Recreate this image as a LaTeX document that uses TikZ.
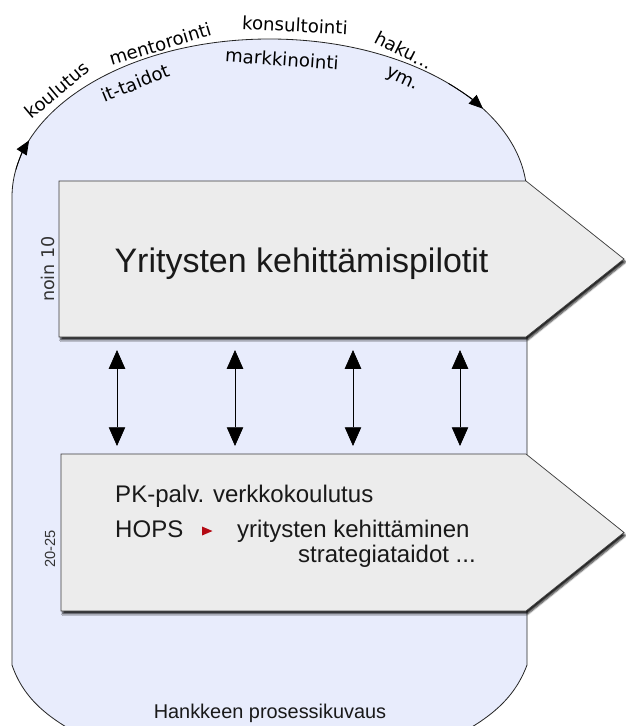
\documentclass[tikz,border=0pt]{standalone}
\usepackage{fontspec}
\setmainfont{Liberation Sans}
\newfontfamily\dejavu{DejaVu Sans}
\usetikzlibrary{arrows.meta,shadows.blur}
\definecolor{bluebg}{RGB}{232,236,252}
\definecolor{boxfill}{RGB}{236,236,236}
\definecolor{boxline}{RGB}{60,60,60}
\definecolor{hopsred}{RGB}{180,10,20}
\tikzset{
  bluearea/.style={fill=bluebg,draw=black!85,line width=0.7pt},
  chevron/.style={fill=boxfill,draw=boxline,line width=0.6pt,
    blur shadow={shadow xshift=1.5pt,shadow yshift=-2.5pt,shadow blur radius=1.5pt,shadow blur steps=6,shadow opacity=85}},
  arclabel/.style={font=\dejavu\fontsize{15.5}{18}\selectfont,inner sep=0pt,anchor=center},
  linkarrow/.style={{Triangle[length=16pt,width=14pt,fill=black]}-{Triangle[length=16pt,width=14pt,fill=black]},line width=0.6pt,draw=black,opacity=1,fill opacity=1,draw opacity=1},
  arctip/.style={-{Triangle[length=12pt,width=10pt]},line width=0.7pt},
  boxtext/.style={inner sep=0pt,text=black!90,font=\fontsize{20.5}{24}\selectfont},
  sidelabel/.style={rotate=90,inner sep=0pt,anchor=base,text=black!80}
}
\begin{document}
\begin{tikzpicture}[x=0.03cm,y=-0.03cm]
\useasboundingbox (0,0) rectangle (626,726);
\clip (0,0) rectangle (626,726);
% process area
\path[bluearea] (12,197) arc[start angle=180,end angle=360,x radius=257.5,y radius=158]
  -- (527,665) .. controls (514,700) and (488,720) .. (448,740)
  -- (90,740) .. controls (50,720) and (24,700) .. (12,665) -- cycle;
% arrow tips on the cycle
\draw[arctip] (15.9,169.6) arc[start angle=190,end angle=201,x radius=257.5,y radius=158];
\draw[arctip] (448.4,83.4) arc[start angle=314,end angle=326,x radius=257.5,y radius=158];
% chevrons
\begin{scope}
\path[chevron] (59,181) -- (526,181) -- (624,259) -- (526,337) -- (59,337) -- cycle;
\end{scope}
\begin{scope}
\path[chevron] (61,454) -- (526,454) -- (624,532.5) -- (526,611) -- (61,611) -- cycle;
\end{scope}
% link arrows
\coordinate (u1) at (117,350); \coordinate (d1) at (117,446);
\coordinate (u2) at (235,350); \coordinate (d2) at (235,446);
\coordinate (u3) at (353,350); \coordinate (d3) at (353,446);
\coordinate (u4) at (460,350); \coordinate (d4) at (460,446);
\draw[linkarrow] (u1) -- (d1);
\draw[linkarrow] (u2) -- (d2);
\draw[linkarrow] (u3) -- (d3);
\draw[linkarrow] (u4) -- (d4);
% texts in chevrons
\node[inner sep=0pt,anchor=base,text=black!90,font=\fontsize{29}{33}\selectfont] (title) at (301.5,272) {Yritysten kehittämispilotit};
\node[boxtext,anchor=base west] (pk) at (115,502) {PK-palv. verkkokoulutus};
\node[boxtext,anchor=base west] (hops) at (115,537) {HOPS};
\fill[hopsred] (202,526.5) -- (212.5,531) -- (202,535.5) -- cycle;
\node[boxtext,anchor=base west] (yk) at (237,537) {yritysten kehittäminen};
\node[boxtext,anchor=base east] (st) at (476,562) {strategiataidot ...};
% side labels
\node[sidelabel,font=\dejavu\fontsize{15}{18}\selectfont] (noin) at (54,269) {noin 10};
\node[sidelabel,font=\fontsize{12.5}{15}\selectfont] (n2025) at (55,549) {20-25};
% bottom label
\node[inner sep=0pt,anchor=base,text=black!90,font=\fontsize{17}{20}\selectfont] (proc) at (270,718) {Hankkeen prosessikuvaus};
% cycle labels
\node[arclabel,rotate=40] (l1) at (57,90) {koulutus};
\node[arclabel,rotate=17] (l2) at (160,44) {mentorointi};
\node[arclabel,rotate=-3] (l3) at (295,25) {konsultointi};
\node[arclabel,rotate=-27] (l4) at (404,50) {haku...};
\node[arclabel,rotate=22] (l5) at (135,83) {it-taidot};
\node[arclabel,rotate=-4] (l6) at (282,59) {markkinointi};
\node[arclabel,rotate=-25] (l7) at (402,80) {ym.};
\end{tikzpicture}
\end{document}
